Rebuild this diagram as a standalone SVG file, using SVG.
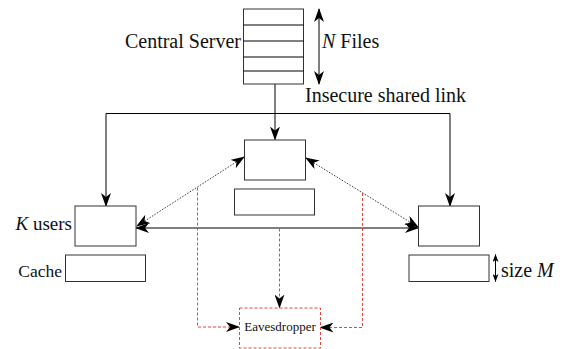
<svg xmlns="http://www.w3.org/2000/svg" width="567" height="349" viewBox="0 0 567 349">
  <style>
    .box { fill: #fff; stroke: #333; stroke-width: 1; }
    .ln { fill: none; stroke: #000; stroke-width: 1; }
    .dot { fill: none; stroke: #222; stroke-width: 0.9; stroke-dasharray: 1.5 1.5; }
    .red { fill: none; stroke: #e8443c; stroke-width: 1; stroke-dasharray: 3 2; }
    .t { font-family: "Liberation Serif", "Times New Roman", serif; font-size: 20px; fill: #111; }
    .it { font-style: italic; }
    .sm { font-size: 13px; }
  </style>
  <defs>
    <marker id="ah" viewBox="0 0 14 10" refX="13" refY="5" markerWidth="14" markerHeight="10" markerUnits="userSpaceOnUse" orient="auto-start-reverse">
      <path d="M0,0 L14,5 L0,10 L4,5 Z" fill="#000"/>
    </marker>
    <marker id="ahs" viewBox="0 0 8 6" refX="7.5" refY="3" markerWidth="8" markerHeight="6" markerUnits="userSpaceOnUse" orient="auto-start-reverse">
      <path d="M0,0 L8,3 L0,6 L2,3 Z" fill="#000"/>
    </marker>
  </defs>

  <!-- connectors -->
  <g id="connectors">
    <!-- shared broadcast link from the server -->
    <path class="ln" d="M275,84 V139.5" marker-end="url(#ah)"/>
    <path class="ln" d="M106,113.5 H450"/>
    <path class="ln" d="M106,113.5 V206" marker-end="url(#ah)"/>
    <path class="ln" d="M450,113.5 V206" marker-end="url(#ah)"/>
    <!-- user-to-user links -->
    <path class="ln" d="M136,228 H418" marker-start="url(#ah)" marker-end="url(#ah)"/>
    <path class="dot" d="M244,157 L137,226" marker-start="url(#ah)" marker-end="url(#ah)"/>
    <path class="dot" d="M306,158 L418,227" marker-start="url(#ah)" marker-end="url(#ah)"/>
    <!-- N Files span -->
    <path class="ln" d="M319,9 V84" marker-start="url(#ah)" marker-end="url(#ah)"/>
    <!-- cache size span -->
    <path class="ln" d="M495.5,254.5 V281.5" marker-start="url(#ahs)" marker-end="url(#ahs)"/>
    <!-- eavesdropper taps -->
    <path class="red" d="M197.5,187.5 V327 H239" marker-end="url(#ah)"/>
    <path class="red" d="M279.5,228.5 V307.5" marker-end="url(#ah)"/>
    <path class="red" d="M362.5,193 V327.5 H320.5" marker-end="url(#ah)"/>
  </g>

  <!-- central server with its file slots -->
  <g id="server">
    <rect class="box" x="243.5" y="9" width="60" height="75"/>
    <path class="ln" stroke="#333" d="M243.5,25 H303.5 M243.5,41 H303.5 M243.5,57 H303.5 M243.5,71 H303.5"/>
    <text class="t" x="241" y="48" text-anchor="end">Central Server</text>
    <text class="t" x="322" y="48"><tspan class="it">N</tspan>  Files</text>
    <text class="t" x="305" y="102">Insecure shared link</text>
  </g>

  <!-- user in the middle and its cache -->
  <g id="user-center">
    <rect class="box" x="244.5" y="140" width="61" height="40"/>
    <rect class="box" x="234.5" y="189" width="80" height="26"/>
  </g>

  <!-- user on the left and its cache -->
  <g id="user-left">
    <rect class="box" x="75" y="206" width="61" height="40"/>
    <rect class="box" x="65.5" y="255" width="80" height="26.5"/>
    <text class="t" x="72" y="230" text-anchor="end" style="font-size:19px"><tspan class="it">K</tspan> users</text>
    <text class="t" x="62" y="277" text-anchor="end" style="font-size:17.5px">Cache</text>
  </g>

  <!-- user on the right and its cache -->
  <g id="user-right">
    <rect class="box" x="418.5" y="206" width="61" height="40"/>
    <rect class="box" x="409" y="255" width="80" height="26.5"/>
    <text class="t" x="501" y="277">size <tspan class="it">M</tspan></text>
  </g>

  <!-- eavesdropper -->
  <g id="eavesdropper">
    <rect x="239.5" y="308" width="81" height="40" fill="#fff" stroke="#e8443c" stroke-width="1" stroke-dasharray="3 2"/>
    <text class="t sm" x="280" y="331" text-anchor="middle">Eavesdropper</text>
  </g>
</svg>
